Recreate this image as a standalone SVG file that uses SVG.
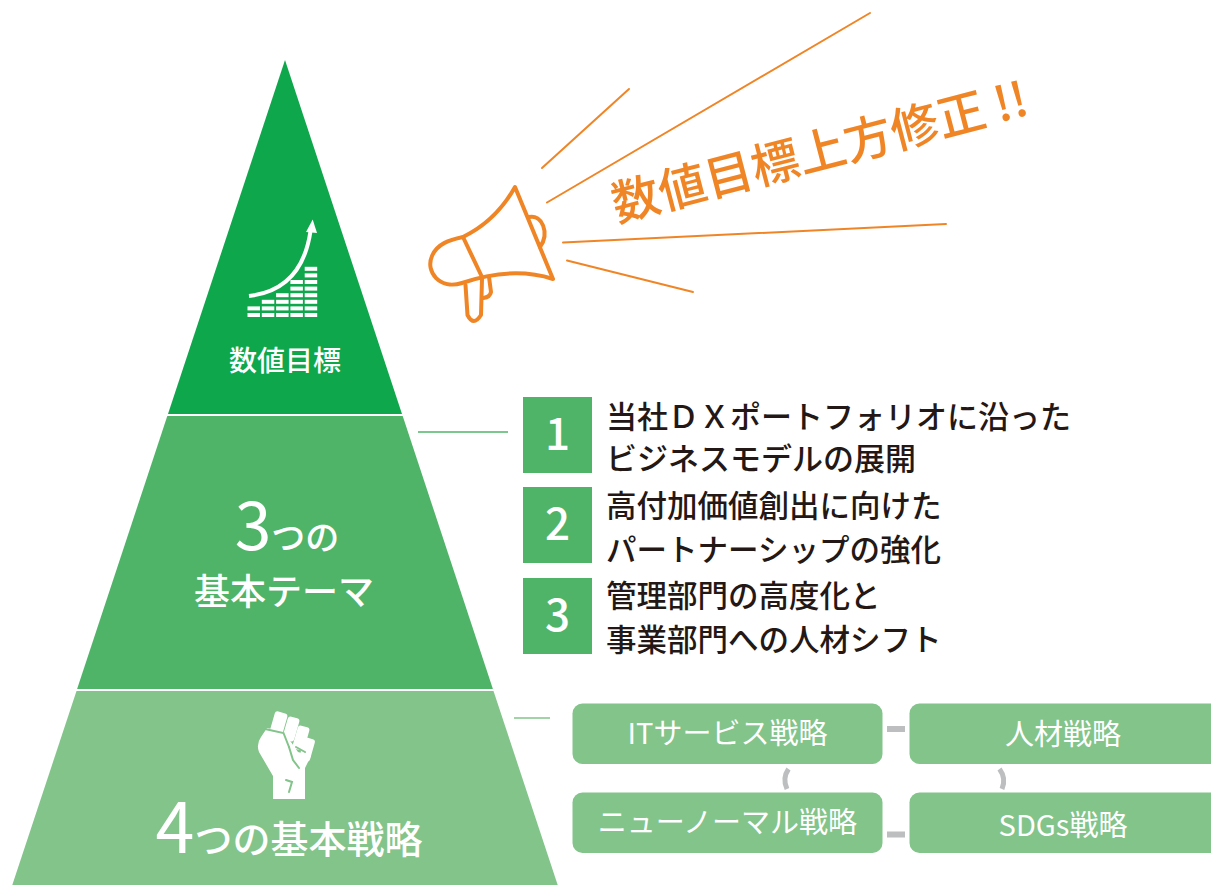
<svg xmlns="http://www.w3.org/2000/svg" width="1211" height="885" viewBox="0 0 1211 885">
  <style>
    .jp { font-family: "Noto Sans CJK JP", "Noto Sans", sans-serif; font-weight: 500; }
    .lbl { font-family: "Noto Sans CJK JP", "Noto Sans", sans-serif; font-weight: 400; font-size: 29px; fill: #ffffff; text-anchor: middle; }
    .wt { fill: #ffffff; }
    .dk { fill: #231815; }
    .ray { stroke: #f08526; stroke-width: 2; fill: none; stroke-linecap: round; }
    .mega { stroke: #f08526; stroke-width: 4; fill: none; stroke-linecap: round; stroke-linejoin: round; }
    .numbox { fill: #4fb468; }
    .strat { fill: #82c48a; }
    .link { fill: #bdbec0; }
    .arc { stroke: #bdbec0; stroke-width: 5; fill: none; }
  </style>

  <!-- pyramid: top tier -->
  <g id="tier-target">
    <polygon points="285,60 402,414 168,414" fill="#0fa74c"/>
    <!-- rising bar chart icon -->
    <g class="wt">
      <g id="bars">
        <rect x="247.5" y="313" width="12.5" height="4"/>
        <rect x="247.5" y="306.4" width="12.5" height="4"/>
        <rect x="261.8" y="313" width="12.5" height="4"/>
        <rect x="261.8" y="306.4" width="12.5" height="4"/>
        <rect x="261.8" y="299.8" width="12.5" height="4"/>
        <rect x="276.1" y="313" width="12.5" height="4"/>
        <rect x="276.1" y="306.4" width="12.5" height="4"/>
        <rect x="276.1" y="299.8" width="12.5" height="4"/>
        <rect x="276.1" y="293.2" width="12.5" height="4"/>
        <rect x="290.4" y="313" width="12.5" height="4"/>
        <rect x="290.4" y="306.4" width="12.5" height="4"/>
        <rect x="290.4" y="299.8" width="12.5" height="4"/>
        <rect x="290.4" y="293.2" width="12.5" height="4"/>
        <rect x="290.4" y="286.6" width="12.5" height="4"/>
        <rect x="290.4" y="280" width="12.5" height="4"/>
        <rect x="304.7" y="313" width="12.5" height="4"/>
        <rect x="304.7" y="306.4" width="12.5" height="4"/>
        <rect x="304.7" y="299.8" width="12.5" height="4"/>
        <rect x="304.7" y="293.2" width="12.5" height="4"/>
        <rect x="304.7" y="286.6" width="12.5" height="4"/>
        <rect x="304.7" y="280" width="12.5" height="4"/>
        <rect x="304.7" y="273.4" width="12.5" height="4"/>
        <rect x="304.7" y="266.8" width="12.5" height="4"/>
      </g>
      <path d="M249,296 Q302,290 310.5,231" stroke="#ffffff" stroke-width="4" fill="none"/>
      <polygon points="312.7,219.5 317,233 306,232"/>
    </g>
    <text class="jp wt" x="285" y="371" font-size="28" text-anchor="middle">数値目標</text>
  </g>

  <!-- pyramid: middle tier -->
  <g id="tier-themes">
    <polygon points="167.3,416 402.7,416 492.9,689 77.1,689" fill="#4fb468"/>
    <text class="jp wt" x="287" y="550" text-anchor="middle"><tspan font-size="66" font-weight="400">3</tspan><tspan font-size="34">つの</tspan></text>
    <text class="jp wt" x="284" y="605" font-size="36" text-anchor="middle">基本テーマ</text>
  </g>

  <!-- pyramid: bottom tier -->
  <g id="tier-strategies">
    <polygon points="76.5,691 493.5,691 557.7,885 12.3,885" fill="#82c48a"/>
    <!-- raised fist icon -->
    <g id="fist" fill="#ffffff">
      <rect x="272" y="712" width="13" height="24" rx="3" transform="rotate(16 278.5 724)"/>
      <rect x="285" y="717" width="12" height="24" rx="3" transform="rotate(16 291 729)"/>
      <rect x="295" y="726" width="12" height="24" rx="3" transform="rotate(16 301 738)"/>
      <rect x="301.5" y="738" width="11" height="23" rx="3" transform="rotate(16 307 750)"/>
      <path d="M261,737 L267,728 L284,732 L298,752 L311,756 L305,768 L305,799 L273,799 L273,776 L259,752 Q256,744 261,737 Z"/>
    </g>
    <g stroke="#82c48a" stroke-width="2" fill="none" stroke-linecap="round">
      <path d="M265,729 L283.5,733 L289,747"/>
      <path d="M289,747 L293,760 L299,768"/>
      <path d="M296,747 L305,752"/>
      <path d="M286,780 L292,782 L289,792"/>
    </g>
    <text class="jp wt" x="289" y="853" text-anchor="middle"><tspan font-size="70" font-weight="400">4</tspan><tspan font-size="38">つの基本戦略</tspan></text>
  </g>

  <!-- megaphone -->
  <g id="megaphone">
    <path class="mega" d="M515,187 L553,279 Q512,266 462,283 C440,290 425,272 432,256 C437,244 449,240 463,237 Q496,221 515,187 Z"/>
    <path class="mega" d="M463,237 L482,277"/>
    <path class="mega" d="M529,217 C542,214 550,233 540,247"/>
    <path class="mega" d="M465.5,285 L467.5,315 Q473.5,327 481,315 L482,279"/>
    <path class="mega" d="M489,277 L491,292 Q490,297 483.5,298"/>
    <line class="ray" x1="542" y1="168" x2="629" y2="89"/>
    <line class="ray" x1="547" y1="202.5" x2="870" y2="13"/>
    <line class="ray" x1="563" y1="242.5" x2="946" y2="224"/>
    <line class="ray" x1="567" y1="260.5" x2="693" y2="292"/>
  </g>

  <g id="headline">
    <text class="jp" transform="translate(617,222) rotate(-14.6)" font-size="48" fill="#f08526">数値目標上方修正 !!</text>
  </g>

  <!-- connectors -->
  <g id="connectors">
    <line x1="418" y1="432" x2="508" y2="432" stroke="#4fb468" stroke-width="1.5"/>
    <line x1="514" y1="718" x2="550" y2="718" stroke="#82c48a" stroke-width="1.5"/>
    <rect class="link" x="887" y="726" width="18" height="6"/>
    <rect class="link" x="887" y="831.5" width="18" height="6"/>
    <path class="arc" d="M788.5,769 Q782,778.5 787,789"/>
    <path class="arc" d="M999.5,769 Q1006.5,778.5 1002,789"/>
  </g>

  <!-- themes -->
  <g id="theme-1">
    <rect class="numbox" x="523" y="397" width="69" height="76"/>
    <text class="jp wt" x="557.5" y="450" font-size="44" font-weight="400" text-anchor="middle">1</text>
    <text class="jp dk" x="606" y="428" font-size="31">当社ＤＸポートフォリオに沿った</text>
    <text class="jp dk" x="606" y="470" font-size="31">ビジネスモデルの展開</text>
  </g>
  <g id="theme-2">
    <rect class="numbox" x="523" y="487" width="69" height="76"/>
    <text class="jp wt" x="557.5" y="540" font-size="44" font-weight="400" text-anchor="middle">2</text>
    <text class="jp dk" x="606" y="517" font-size="30.5">高付加価値創出に向けた</text>
    <text class="jp dk" x="606" y="561" font-size="30.5">パートナーシップの強化</text>
  </g>
  <g id="theme-3">
    <rect class="numbox" x="523" y="578" width="69" height="76"/>
    <text class="jp wt" x="557.5" y="631" font-size="44" font-weight="400" text-anchor="middle">3</text>
    <text class="jp dk" x="606" y="607" font-size="30.5">管理部門の高度化と</text>
    <text class="jp dk" x="606" y="651" font-size="30.5">事業部門への人材シフト</text>
  </g>

  <!-- strategies -->
  <g id="strategy-it">
    <rect class="strat" x="572.5" y="703.5" width="310" height="60.5" rx="10"/>
    <text class="lbl" x="727.5" y="744">ITサービス戦略</text>
  </g>
  <g id="strategy-hr">
    <rect class="strat" x="909.5" y="703.5" width="310" height="60.5" rx="10"/>
    <text class="lbl" x="1063" y="745">人材戦略</text>
  </g>
  <g id="strategy-newnormal">
    <rect class="strat" x="572.5" y="792.5" width="310" height="60.5" rx="10"/>
    <text class="lbl" x="727.5" y="833">ニューノーマル戦略</text>
  </g>
  <g id="strategy-sdgs">
    <rect class="strat" x="909.5" y="792.5" width="310" height="60.5" rx="10"/>
    <text class="lbl" x="1063" y="836">SDGs戦略</text>
  </g>
</svg>
